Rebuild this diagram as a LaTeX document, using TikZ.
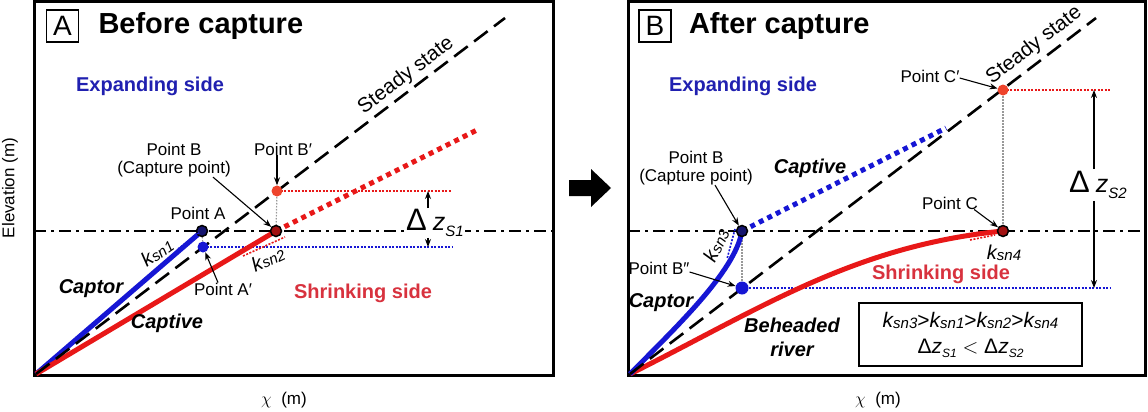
\documentclass[tikz,border=0pt]{standalone}
\usepackage{fontspec}
\setmainfont{Liberation Sans}
\usepackage{tikz}
\usetikzlibrary{arrows.meta, positioning}
\definecolor{captorblue}{RGB}{22,22,212}
\definecolor{captivered}{RGB}{232,24,24}
\definecolor{expandblue}{RGB}{32,32,176}
\definecolor{shrinkred}{RGB}{216,50,62}
\definecolor{pointred}{RGB}{238,68,44}
\definecolor{pointnavy}{RGB}{20,20,110}
\newcommand{\ksn}[1]{\textit{k\raisebox{-1pt}{\fontsize{15}{15}\selectfont sn#1}}}
\newcommand{\dzbig}[1]{{\fontsize{31}{31}\selectfont Δ}\hspace{6pt}{\fontsize{25}{25}\selectfont\itshape z}\raisebox{-6pt}{\fontsize{15}{15}\selectfont\itshape S#1}}
\newcommand{\dzsmall}[1]{Δ\textit{z}\raisebox{-4pt}{\fontsize{12}{12}\selectfont\itshape S#1}}

\begin{document}
\begin{tikzpicture}[x=1pt, y=-1pt,
    lbl/.style={inner sep=0pt, font=\fontsize{17}{18}\selectfont},
    klbl/.style={inner sep=0pt, font=\fontsize{20}{20}\selectfont},
    sslbl/.style={inner sep=0pt, font=\fontsize{20.5}{21}\selectfont},
    sidelbl/.style={inner sep=0pt, font=\fontsize{20}{22}\selectfont\bfseries},
    riverlbl/.style={inner sep=0pt, font=\fontsize{20}{24}\selectfont\bfseries\itshape},
    ptdot/.style={circle, inner sep=0pt, minimum size=11pt},
    ptarrow/.style={-{Stealth[length=8pt,width=6pt]}, line width=1.1pt},
    steady/.style={line width=2.6pt, dash pattern=on 17pt off 8pt},
    axisline/.style={line width=2.5pt, dash pattern=on 12pt off 5pt on 3pt off 5pt},
    thickdot/.style={line width=5pt, dash pattern=on 5pt off 4.5pt},
    reddot/.style={captivered, line width=1.6pt, dash pattern=on 2pt off 1.5pt},
    bluedot/.style={captorblue, line width=1.6pt, dash pattern=on 2pt off 1.5pt},
    greydot/.style={gray!80, line width=1.2pt, dash pattern=on 1.5pt off 1.5pt}]
    \useasboundingbox (0,0) rectangle (1148,412);

    % panels
    \draw[line width=3pt] (34,2) rectangle (553,375);
    \draw[line width=3pt] (628,2) rectangle (1145,375);
    \fill (569,180) -- (591,180) -- (591,169) -- (611,188) -- (591,207) -- (591,196) -- (569,196) -- cycle;

    \node[draw, line width=1.6pt, minimum size=32pt, inner sep=0pt, font=\fontsize{28}{28}\selectfont] (tagA) at (62.5,26) {A};
    \node[right=19pt of tagA, inner sep=0pt, font=\fontsize{29}{30}\selectfont\bfseries] (titleA) {Before capture};
    \node[draw, line width=1.6pt, minimum size=32pt, inner sep=0pt, font=\fontsize{28}{28}\selectfont] (tagB) at (655,26) {B};
    \node[right=17pt of tagB, inner sep=0pt, font=\fontsize{29}{30}\selectfont\bfseries] (titleB) {After capture};

    % A: before capture
    \coordinate (oA) at (36,374);
    \coordinate (sA) at (505,18);
    \coordinate (pA) at (202,231);
    \coordinate (pAp) at (203,247);
    \coordinate (pB) at (276,231);
    \coordinate (pBp) at (277,191);
    \coordinate (eA) at (477,130);
    \coordinate (hA1) at (452,191);
    \coordinate (hA2) at (452,247);

    \draw[reddot] (pBp) -- (hA1);
    \draw[bluedot] (pAp) -- (hA2);
    \draw[greydot] (pBp) -- (pB);
    \draw[greydot] (pA) -- (pAp);
    \draw[axisline] (34,231) -- (553,231);
    \draw[captorblue, line width=5pt] (oA) -- (pA);
    \draw[captivered, line width=5pt] (oA) -- (pB);
    \draw[captivered, thickdot] (pB) -- (eA);
    \draw[steady] (oA) -- node[pos=0.807, sloped, above=3pt, sslbl] (ssA) {Steady state} (sA);

    \node[ptdot, fill=pointnavy, draw=black, line width=1.5pt] (A) at (pA) {};
    \node[ptdot, fill=captorblue] (Ap) at (pAp) {};
    \node[ptdot, fill=captivered!70!black, draw=black, line width=1.5pt] (B) at (pB) {};
    \node[ptdot, fill=pointred] (Bp) at (pBp) {};

    \node[lbl] (lblA) at (198,213) {Point A};
    \node[lbl] (lblAp) at (223,289) {Point A′};
    \node[lbl] (lblBp) at (283,149) {Point B′};
    \node[lbl, align=center] (lblB) at (174,160) {Point B\\(Capture point)};
    \draw[ptarrow] ([xshift=39pt]lblB.south) -- (B);
    \draw[ptarrow] (lblBp.south -| Bp) -- (Bp);
    \draw[ptarrow] ([xshift=-5pt]lblAp.north) -- (Ap);

    \draw[bluedot] (178,249) -- (200,232);
    \node[klbl, rotate=35] (kA1) at (157,252) {\ksn{1}};
    \draw[reddot] (243,256) -- (285,237);
    \node[klbl, rotate=25] (kA2) at (268,259) {\ksn{2}};

    \node[fill=white, inner sep=1pt] (dzA) at (435,223) {\dzbig{1}};
    \coordinate (dzAtop) at (428,191);
    \coordinate (dzAbot) at (428,247);
    \draw[ptarrow] (dzA.north -| dzAtop) -- (dzAtop);
    \draw[ptarrow] (dzA.south -| dzAbot) -- (dzAbot);

    \node[sidelbl, text=expandblue] (expA) at (150,86) {Expanding side};
    \node[sidelbl, text=shrinkred] (shrA) at (363,293) {Shrinking side};
    \node[riverlbl] (captorA) at (91,289) {Captor};
    \node[riverlbl] (captiveA) at (167,323) {Captive};
    \node[lbl, rotate=90] (yA) at (10,188) {Elevation (m)};
    \node[lbl] (xA) at (284,400) {$\chi$~ (m)};

    % B: after capture
    \coordinate (oB) at (630,374);
    \coordinate (sB) at (1096,18);
    \coordinate (qB) at (742,231);
    \coordinate (qBpp) at (742,288);
    \coordinate (qC) at (1003,231);
    \coordinate (qCp) at (1003,90);
    \coordinate (eB) at (946,128);
    \coordinate (hB1) at (1110,90);
    \coordinate (hB2) at (1110,288);

    \draw[reddot] (qCp) -- (hB1);
    \draw[bluedot] (qBpp) -- (hB2);
    \draw[greydot] (qCp) -- (qC);
    \draw[greydot] (qB) -- (qBpp);
    \draw[axisline] (628,231) -- (1145,231);
    \draw[captivered, line width=5pt] (oB) .. controls (760,309) and (853,246) .. (qC);
    \draw[captorblue, line width=5pt] (oB) .. controls (675,328) and (735,272) .. (qB);
    \draw[captorblue, thickdot] (qB) -- (eB);
    \draw[steady] (oB) -- node[pos=0.888, sloped, above=5pt, sslbl] (ssB) {Steady state} (sB);

    \node[ptdot, fill=pointnavy, draw=black, line width=1.5pt] (BB) at (qB) {};
    \node[ptdot, fill=captorblue, minimum size=13pt] (Bpp) at (qBpp) {};
    \node[ptdot, fill=captivered!70!black, draw=black, line width=1.5pt] (C) at (qC) {};
    \node[ptdot, fill=pointred] (Cp) at (qCp) {};

    \node[lbl, align=center] (lblBB) at (696,168) {Point B\\(Capture point)};
    \node[lbl] (lblBpp) at (659,268) {Point B″};
    \node[lbl] (lblC) at (950,203) {Point C};
    \node[lbl] (lblCp) at (930,76) {Point C′};
    \draw[ptarrow] ([xshift=19pt]lblBB.south) -- (BB);
    \draw[ptarrow] ([yshift=-4pt]lblBpp.east) -- (Bpp);
    \draw[ptarrow] ([xshift=-4pt]lblC.south east) -- (C);
    \draw[ptarrow] ([yshift=-2pt]lblCp.east) -- (Cp);

    \draw[bluedot] (735,229) -- (727,259);
    \node[klbl, rotate=65] (kB3) at (716,245) {\ksn{3}};
    \draw[reddot] (970,240) -- (995,235);
    \node[klbl] (kB4) at (1004,253) {\ksn{4}};

    \node[fill=white, inner sep=2pt] (dzB) at (1098,185) {\dzbig{2}};
    \coordinate (dzBtop) at (1094,90);
    \coordinate (dzBbot) at (1094,288);
    \draw[ptarrow] (dzB.north -| dzBtop) -- (dzBtop);
    \draw[ptarrow] (dzB.south -| dzBbot) -- (dzBbot);

    \node[sidelbl, text=expandblue] (expB) at (743,86) {Expanding side};
    \node[sidelbl, text=shrinkred] (shrB) at (941,274) {Shrinking side};
    \node[riverlbl] (captiveB) at (810,168) {Captive};
    \node[riverlbl] (captorB) at (661,303) {Captor};
    \node[riverlbl, align=center] (beheadB) at (792,337) {Beheaded\\river};
    \node[draw, line width=1.2pt, minimum width=223pt, minimum height=63pt, inner sep=0pt, align=center,
          font=\fontsize{21}{26}\selectfont] (relbox) at (970.5,334.5)
          {\ksn{3}>\ksn{1}>\ksn{2}>\ksn{4}\\\dzsmall{1} $<$ \dzsmall{2}};
    \node[lbl] (xB) at (878,400) {$\chi$~ (m)};
\end{tikzpicture}
\end{document}
